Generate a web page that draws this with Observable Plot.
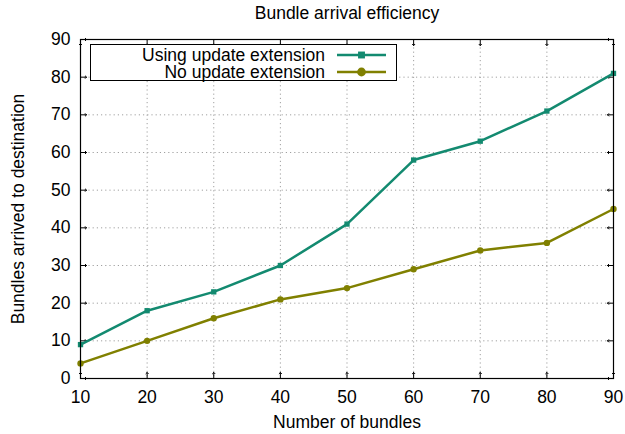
<!DOCTYPE html>
<html><head><meta charset="utf-8">
<script src="https://cdn.jsdelivr.net/npm/d3@7"></script>
<script src="https://cdn.jsdelivr.net/npm/@observablehq/plot@0.6"></script>
<style>
body{margin:0;background:#fff;font-family:"Liberation Sans",Arial,sans-serif;}
#wrap{position:relative;width:625px;height:434px;}
#legend{position:absolute;left:90px;top:44px;width:307px;height:37px;border:1px solid #000;background:#fff;box-sizing:border-box;font-size:17.5px;color:#000;}
#legend .row{position:absolute;left:0;height:16px;width:100%;}
#legend .lab{position:absolute;right:71px;top:0;white-space:nowrap;line-height:16px;height:16px;display:block;overflow:visible;}
#legend svg{position:absolute;left:246px;top:0;}
</style></head><body><div id="wrap"></div>
<script>
const bundles = [10, 20, 30, 40, 50, 60, 70, 80, 90];
const withUpdate = [9, 18, 23, 30, 41, 58, 63, 71, 81];
const noUpdate = [4, 10, 16, 21, 24, 29, 34, 36, 45];
const seriesNames = ["Using update extension", "No update extension"];
const seriesColors = ["#138a70", "#808000"];
const seriesSymbols = ["square", "circle"];
const xTicks = [10, 20, 30, 40, 50, 60, 70, 80, 90];
const yTicks = [0, 10, 20, 30, 40, 50, 60, 70, 80, 90];
const title = "Bundle arrival efficiency";
const xLabel = "Number of bundles";
const yLabel = "Bundles arrived to destination";

const seriesValues = [withUpdate, noUpdate];
const rows = [];
seriesValues.forEach((vals, s) => vals.forEach((v, i) => rows.push({bundles: bundles[i], value: v, series: seriesNames[s]})));

const fs = 17.5;
const chart = Plot.plot({
  width: 625, height: 434,
  marginLeft: 80, marginRight: 12, marginTop: 39, marginBottom: 56,
  style: {fontFamily: '"Liberation Sans", Arial, sans-serif', fontSize: fs + "px", color: "#000", background: "#fff"},
  x: {domain: [10, 90]},
  y: {domain: [0, 90]},
  color: {domain: seriesNames, range: seriesColors},
  symbol: {domain: seriesNames, range: seriesSymbols},
  marks: [
    Plot.gridX(xTicks.slice(1, -1), {stroke: "#a0a0a0", strokeOpacity: 1, strokeDasharray: "1.2,3"}),
    Plot.gridY(yTicks.slice(1, -1), {stroke: "#a0a0a0", strokeOpacity: 1, strokeDasharray: "1.2,3"}),
    Plot.vector(xTicks, {x: d => d, frameAnchor: "bottom", length: 6, rotate: 0, anchor: "start", stroke: "#000", strokeWidth: 1}),
    Plot.vector(xTicks, {x: d => d, frameAnchor: "top", length: 6, rotate: 180, anchor: "start", stroke: "#000", strokeWidth: 1}),
    Plot.vector(yTicks, {y: d => d, frameAnchor: "left", length: 6, rotate: 90, anchor: "start", stroke: "#000", strokeWidth: 1}),
    Plot.vector(yTicks, {y: d => d, frameAnchor: "right", length: 6, rotate: -90, anchor: "start", stroke: "#000", strokeWidth: 1}),
    Plot.axisX(xTicks, {tickSize: 0, tickPadding: 12, fontSize: fs, label: null}),
    Plot.axisY(yTicks, {tickSize: 0, tickPadding: 10, fontSize: fs, label: null}),
    Plot.text([xLabel], {frameAnchor: "bottom", dy: 43.5, fontSize: fs, lineAnchor: "middle", textAnchor: "middle"}),
    Plot.text([yLabel], {frameAnchor: "left", dx: -62, rotate: -90, fontSize: fs, lineAnchor: "middle", textAnchor: "middle"}),
    Plot.text([title], {frameAnchor: "top", dy: -26, fontSize: fs, lineAnchor: "middle", textAnchor: "middle"}),
    Plot.line(rows, {x: "bundles", y: "value", stroke: "series", strokeWidth: 2.5}),
    Plot.dot(rows, {x: "bundles", y: "value", fill: "series", symbol: "series", r: d => d.series === seriesNames[0] ? 3.9 : 4.4, stroke: null}),
    Plot.frame({stroke: "#000", strokeWidth: 1.2})
  ]
});
const wrap = document.getElementById("wrap");
wrap.appendChild(chart);

const legend = document.createElement("div");
legend.id = "legend";
seriesNames.forEach((name, i) => {
  const row = document.createElement("div");
  row.className = "row";
  row.style.top = (2 + i * 16.7) + "px";
  const lab = document.createElement("div");
  lab.className = "lab";
  lab.textContent = name;
  row.appendChild(lab);
  const svg = d3.create("svg").attr("width", 52).attr("height", 16);
  svg.append("line").attr("x1", 0).attr("x2", 49).attr("y1", 8).attr("y2", 8).attr("stroke", seriesColors[i]).attr("stroke-width", 2.5);
  svg.append("path").attr("transform", "translate(24.5,8)")
    .attr("d", d3.symbol(i === 0 ? d3.symbolSquare : d3.symbolCircle, i === 0 ? Math.PI * 3.9 * 3.9 : Math.PI * 4.4 * 4.4)())
    .attr("fill", seriesColors[i]);
  row.appendChild(svg.node());
  legend.appendChild(row);
});
wrap.appendChild(legend);
</script>
</body></html>
